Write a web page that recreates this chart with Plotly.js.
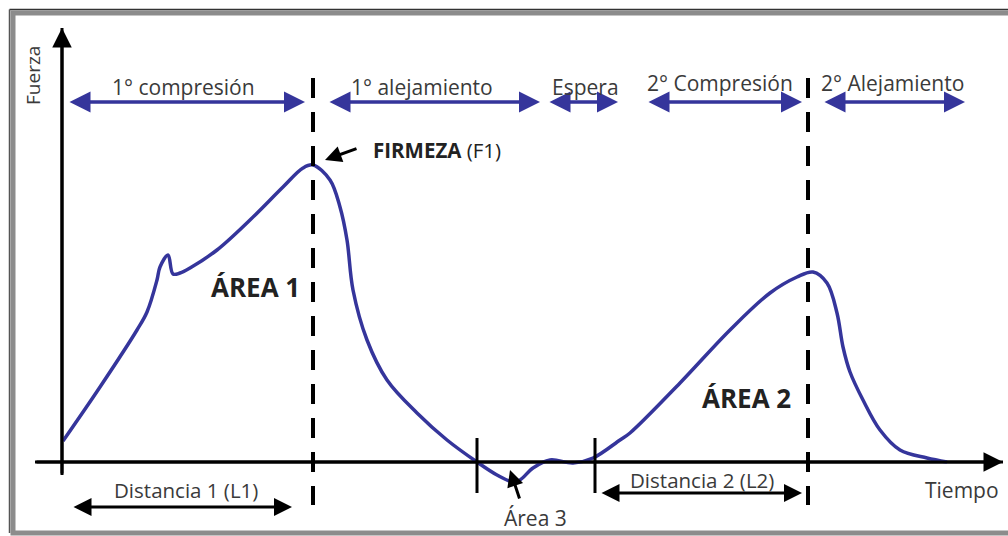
<!DOCTYPE html>
<html>
<head>
<meta charset="utf-8">
<script src="https://cdn.plot.ly/plotly-3.0.1.min.js"></script>
<style>html,body{margin:0;padding:0;background:#fff;}#chart{width:1008px;height:536px;}</style>
</head>
<body>
<div id="chart"></div>
<script>
// Curve of the texture profile (time vs force, arbitrary units)
const time  = [1, 38, 75, 85, 95, 98, 106, 111, 118, 128, 155, 188, 221, 241, 251, 268, 278, 285, 291, 305, 325, 355, 385, 415, 435, 451, 458, 471, 488, 511, 531, 558, 568, 618, 668, 708, 735, 751, 765, 775, 781, 788, 801, 818, 838, 865, 885];
const force = [21, 75, 132, 150, 182, 195, 207, 188, 189, 194, 212, 242, 275, 294, 297, 282, 255, 222, 172, 122, 82, 49, 22, 0, -13, -20, -18, -6, 2, -1, 4, 22, 29, 79, 132, 169, 185, 190, 179, 149, 115, 90, 62, 32, 12, 4, 0];

// Phase labels (top blue arrows)
const phaseLabels = ["1° compresión", "1° alejamiento", "Espera", "2° Compresión", "2° Alejamiento"];
const phaseStart  = [6, 266, 486, 585, 761];
const phaseEnd    = [243, 478, 556, 740, 903];
const phaseLabelX = [121, 360, 523, 658, 830];
const phaseLabelY = [375, 375, 375, 379, 379];

// Key boundaries on time axis
const peak1Time = 251, peak2Time = 746;
const area3Start = 415, area3End = 533;

const BLUE = '#35359b';
const TXT = '#3a3a3a';
const FONT = 'Open Sans, Noto Sans, sans-serif';

const shapes = [];
const annotations = [];

// frame
shapes.push({type:'rect', xref:'paper', yref:'paper', x0:13/1008, x1:1.06, y0:1-533/536, y1:1-13/536,
  line:{color:'#8c8c8c', width:5}});
shapes.push({type:'line', xref:'paper', yref:'paper', x0:9.5/1008, x1:1, y0:1-9.5/536, y1:1-9.5/536, line:{color:'#333', width:1.5}});
shapes.push({type:'line', xref:'paper', yref:'paper', x0:9.5/1008, x1:9.5/1008, y0:1-533/536, y1:1-9.5/536, line:{color:'#555', width:1.5}});

// dashed lines at peaks
[peak1Time, peak2Time].forEach(t => {
  shapes.push({type:'line', x0:t, x1:t, y0:384, y1:-43, line:{color:'#000', width:4, dash:'20px,14px'}});
});
// solid ticks for area 3
[area3Start, area3End].forEach(t => {
  shapes.push({type:'line', x0:t, x1:t, y0:24, y1:-31, line:{color:'#000', width:3}});
});

// axes arrows
annotations.push({x:0, y:434, ax:0, ay:-13, axref:'x', ayref:'y', text:'', showarrow:true,
  arrowhead:2, arrowsize:1.3, arrowwidth:3, arrowcolor:'#000', standoff:0, startstandoff:0});
annotations.push({x:941, y:0, ax:-27, ay:0, axref:'x', ayref:'y', text:'', showarrow:true,
  arrowhead:2, arrowsize:1.3, arrowwidth:3, arrowcolor:'#000', standoff:0, startstandoff:0});

// phase arrows + labels
phaseLabels.forEach((lab, i) => {
  annotations.push({x:phaseEnd[i], y:360, ax:phaseStart[i], ay:360, axref:'x', ayref:'y', text:'', showarrow:true,
    arrowhead:2, startarrowhead:2, arrowside:'end+start', arrowsize:1.2, startarrowsize:1.2, arrowwidth:3.5, arrowcolor:BLUE, standoff:0, startstandoff:0});
  annotations.push({x:phaseLabelX[i], y:phaseLabelY[i], text:lab, showarrow:false,
    font:{family:FONT, size:21, color:TXT}});
});

// distance arrows
annotations.push({x:230, y:-45, ax:10, ay:-45, axref:'x', ayref:'y', text:'', showarrow:true,
  arrowhead:2, startarrowhead:2, arrowside:'end+start', arrowsize:1.2, startarrowsize:1.2, arrowwidth:3, arrowcolor:'#000', standoff:0, startstandoff:0});
annotations.push({x:124, y:-28, text:'Distancia 1 (L1)', showarrow:false, font:{family:FONT, size:20.5, color:TXT}});
annotations.push({x:740, y:-31, ax:538, ay:-31, axref:'x', ayref:'y', text:'', showarrow:true,
  arrowhead:2, startarrowhead:2, arrowside:'end+start', arrowsize:1.2, startarrowsize:1.2, arrowwidth:3, arrowcolor:'#000', standoff:0, startstandoff:0});
annotations.push({x:640, y:-18, text:'Distancia 2 (L2)', showarrow:false, font:{family:FONT, size:20.5, color:TXT}});

// axis titles
annotations.push({x:900, y:-28, text:'Tiempo', showarrow:false, font:{family:FONT, size:21, color:TXT}});
annotations.push({x:-29, y:386, text:'Fuerza', textangle:-90, showarrow:false, font:{family:FONT, size:19, color:TXT}});

// Área 3
annotations.push({x:473, y:-56, text:'Área 3', showarrow:false, font:{family:FONT, size:21, color:TXT}});
annotations.push({x:448, y:-8, ax:458, ay:-38, axref:'x', ayref:'y', text:'', showarrow:true,
  arrowhead:2, arrowsize:1.1, arrowwidth:3, arrowcolor:'#000', standoff:0, startstandoff:0});

// Firmeza
annotations.push({x:309, y:312, xanchor:'left', text:'<b>FIRMEZA</b> (F1)', showarrow:false, font:{family:FONT, size:20.5, color:'#222'}});
annotations.push({x:263, y:302, ax:296, ay:314, axref:'x', ayref:'y', text:'', showarrow:true,
  arrowhead:2, arrowsize:1.1, arrowwidth:3, arrowcolor:'#000', standoff:0, startstandoff:0});

// Áreas
annotations.push({x:193, y:175, text:'<b>ÁREA 1</b>', showarrow:false, font:{family:FONT, size:26, color:'#222'}});
annotations.push({x:684, y:64, text:'<b>ÁREA 2</b>', showarrow:false, font:{family:FONT, size:26, color:'#222'}});

const traces = [
  {x:[-27, 941], y:[0, 0], mode:'lines', line:{color:'#000', width:3}, hoverinfo:'skip'},
  {x:[0, 0], y:[-13, 434], mode:'lines', line:{color:'#000', width:3}, hoverinfo:'skip'},
  {x:time, y:force, mode:'lines', line:{color:BLUE, width:3.5, shape:'spline', smoothing:1}, hoverinfo:'skip'}
];

const layout = {
  width:1008, height:536,
  margin:{l:0, r:0, t:0, b:0},
  paper_bgcolor:'#fff', plot_bgcolor:'#fff',
  showlegend:false,
  xaxis:{range:[-62, 946], visible:false, fixedrange:true},
  yaxis:{range:[-74, 462], visible:false, fixedrange:true},
  shapes:shapes,
  annotations:annotations
};

Plotly.newPlot('chart', traces, layout, {staticPlot:true, displayModeBar:false});
</script>
</body>
</html>
